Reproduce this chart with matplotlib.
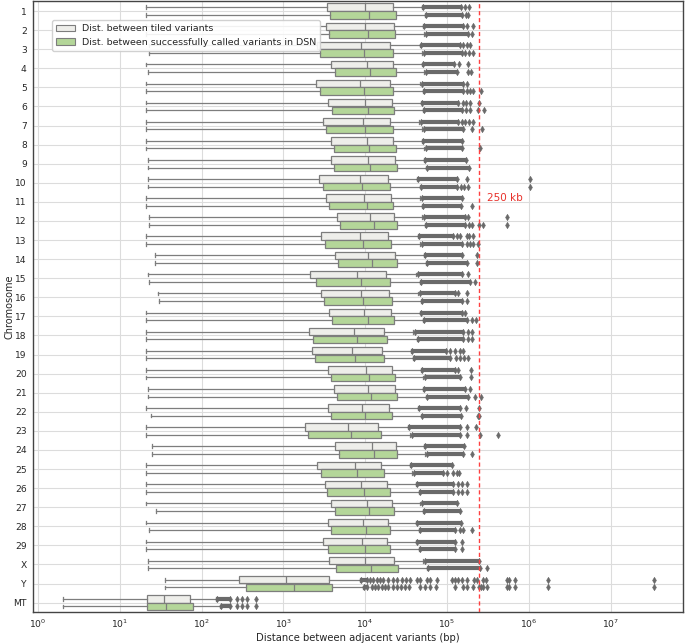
import matplotlib
matplotlib.use("Agg")
import matplotlib.pyplot as plt
from matplotlib.patches import Patch

chromosomes = ["1", "2", "3", "4", "5", "6", "7", "8", "9", "10", "11", "12", "13", "14",
               "15", "16", "17", "18", "19", "20", "21", "22", "23", "24", "25", "26", "27",
               "28", "29", "X", "Y", "MT"]
series_names = ["Dist. between tiled variants",
                "Dist. between successfully called variants in DSN"]

# ---- tiled variants (bp) ----
tiled_min = [21, 21, 23, 21, 21, 21, 21, 21, 22, 22, 21, 23, 21, 27, 22, 29, 21, 21, 21, 21,
             22, 21, 21, 25, 21, 21, 21, 21, 21, 22, 36, 2]
tiled_q1 = [3380, 3290, 2600, 3790, 2480, 3540, 3020, 3790, 3790, 2750, 3290, 4520, 2880, 4240,
            2130, 2900, 3610, 2070, 2240, 3540, 4190, 3540, 1850, 4310, 2550, 3230, 3790, 3540,
            3020, 3640, 289, 21.3]
tiled_med = [10100, 9950, 8810, 10400, 8710, 9860, 9310, 10400, 10700, 8710, 9750, 11500, 8570,
             10900, 8000, 8810, 9750, 7230, 6950, 10300, 10900, 9140, 6210, 12000, 7440, 8810,
             10400, 9480, 9060, 10100, 1070, 35.0]
tiled_q3 = [21900, 22300, 20300, 21900, 20300, 21300, 20100, 21900, 23300, 18800, 20800, 22700,
            19200, 23300, 18100, 19700, 20800, 16800, 15900, 21400, 22900, 19700, 14300, 23600,
            15700, 18600, 21100, 18800, 18600, 22700, 3640, 72.8]
tiled_band_end = [147000, 158000, 144000, 123000, 156000, 137000, 137000, 151000, 171000, 131000,
                  151000, 166000, 119000, 151000, 151000, 125000, 151000, 158000, 97200, 125000,
                  166000, 144000, 144000, 161000, 114000, 119000, 131000, 147000, 125000, 248000,
                  10400, 222]
tiled_outliers = [
    [167000, 184000], [174000, 208000], [158000, 174000, 191000], [141000, 182000], [174000],
    [156000, 169000, 191000, 246000], [151000, 166000, 187000, 206000], [], [],
    [177000, 1035000], [], [182000, 546000], [134000, 144000, 174000, 187000, 206000], [235000],
    [182000], [137000, 174000], [166000], [179000, 200000], [109000, 125000, 144000, 158000],
    [137000, 195000], [191000], [171000, 248000], [177000, 226000], [], [],
    [137000, 151000, 177000], [], [], [151000], [],
    [11500, 12600, 13800, 15200, 16600, 19200, 21700, 24300, 27900, 31600, 35300, 42700, 46800,
     56500, 61900, 74800, 114000, 125000, 137000, 151000, 177000, 214000, 231000, 278000, 300000,
     537000, 578000, 678000, 1730000, 34000000],
    [269, 309, 356, 462],
]

# ---- successfully called variants in DSN (bp) ----
dsn_min = [21, 21, 23, 22, 21, 21, 21, 21, 22, 22, 21, 23, 21, 27, 23, 30, 21, 21, 21, 21,
           22, 24, 21, 25, 21, 21, 28, 23, 21, 22, 36, 2]
dsn_q1 = [3740, 3580, 2830, 4240, 2830, 3930, 3340, 4190, 4120, 3020, 3640, 4960, 3250, 4610,
          2520, 3130, 3960, 2320, 2450, 3850, 4560, 3850, 1980, 4740, 2880, 3380, 4310, 3850,
          3540, 4360, 349, 21.3]
dsn_med = [11200, 10700, 9750, 11500, 9750, 10900, 10000, 11200, 11500, 9220, 10500, 12700, 9310,
           12000, 8960, 9480, 10700, 8000, 7500, 11000, 11900, 9860, 6650, 12700, 8000, 9590,
           11200, 10200, 9950, 11800, 1360, 36.7]
dsn_q3 = [23600, 23300, 21700, 23600, 22000, 22500, 21900, 23600, 24700, 20300, 22000, 24500,
          20800, 24700, 20300, 21100, 22500, 18600, 16800, 22900, 24700, 21400, 15500, 24700,
          16800, 20300, 22700, 20300, 20100, 25400, 3960, 79.2]
dsn_band_end = [151000, 182000, 151000, 131000, 156000, 151000, 158000, 151000, 187000, 131000,
                147000, 166000, 151000, 174000, 191000, 151000, 174000, 158000, 109000, 144000,
                182000, 147000, 144000, 158000, 88600, 119000, 144000, 125000, 125000, 253000,
                10400, 222]
dsn_outliers = [
    [171000, 182000], [200000], [166000, 187000, 210000], [179000, 195000],
    [177000, 191000, 206000, 258000], [169000, 191000, 241000, 283000], [200000, 266000],
    [253000], [], [147000, 161000, 179000, 1035000], [200000],
    [186000, 202000, 248000, 278000, 546000], [177000, 191000, 206000, 241000], [235000],
    [220000], [177000], [200000, 226000], [179000, 200000], [129000, 144000, 161000, 182000],
    [195000], [220000, 258000], [241000, 248000], [177000, 253000, 424000], [202000],
    [99200, 119000, 131000, 141000], [137000, 151000, 177000], [], [144000, 158000, 202000],
    [151000], [311000],
    [12000, 13200, 14500, 15900, 17500, 19200, 21700, 24300, 27200, 30700, 34600, 46800, 53800,
     61900, 73400, 125000, 156000, 177000, 210000, 248000, 260000, 278000, 306000, 537000,
     578000, 678000, 1730000, 34000000],
    [269, 309, 356, 462],
]

threshold_bp = 250000
threshold_label = "250 kb"

# ---- styling ----
colors = ["#eeeeea", "#b4d699"]
edge = "#7d7d7d"
flier_c = "#6a6a6a"
text_c = "#262626"

fig = plt.figure(figsize=(6.85, 6.43), dpi=100)
ax = fig.add_axes([0.0482, 0.0479, 0.9489, 0.9498])
ax.set_xscale("log")
ax.set_axisbelow(True)
ax.grid(True, which="major", color="#dcdcdc", lw=0.8)
ax.grid(False, which="minor")

groups = [
    (tiled_min, tiled_q1, tiled_med, tiled_q3, tiled_band_end, tiled_outliers, -0.2),
    (dsn_min, dsn_q1, dsn_med, dsn_q3, dsn_band_end, dsn_outliers, 0.2),
]
width = 0.392
for k, (mn, q1, md, q3, bend, outs, off) in enumerate(groups):
    stats = []
    for i in range(len(chromosomes)):
        iqr = q3[i] - q1[i]
        stats.append(dict(whislo=mn[i], q1=q1[i], med=md[i], q3=q3[i],
                          whishi=q3[i] + 1.5 * iqr, fliers=[]))
    pos = [i + off for i in range(len(chromosomes))]
    ax.bxp(stats, positions=pos, widths=width, vert=False, patch_artist=True,
           showfliers=False, manage_ticks=False,
           boxprops=dict(facecolor=colors[k], edgecolor=edge, lw=0.9),
           medianprops=dict(color=edge, lw=0.9),
           whiskerprops=dict(color=edge, lw=0.9),
           capprops=dict(color=edge, lw=0.9))
    for i in range(len(chromosomes)):
        start = stats[i]["whishi"] * 1.04
        ax.hlines(pos[i], start, bend[i], colors=flier_c, lw=3.0, zorder=3)
        pts = [start, bend[i]] + outs[i]
        ax.plot(pts, [pos[i]] * len(pts), ls="none", marker="d", ms=3.4,
                color=flier_c, mec=flier_c, mew=0.3, zorder=3)

ax.axvline(threshold_bp, color="#ff4040", ls="--", lw=1.0, dashes=(3, 2), zorder=4)
ax.text(311000, 9.81, threshold_label, color="#e8302a", fontsize=7.5, va="center", ha="left")

ax.set_yticks(range(len(chromosomes)))
ax.set_yticklabels(chromosomes)
ax.set_ylim(len(chromosomes) - 0.5, -0.5)
ax.set_xlim(0.87, 7.7e7)
ax.set_xticks([1, 10, 100, 1e3, 1e4, 1e5, 1e6, 1e7])
ax.tick_params(axis="both", which="both", length=0, labelsize=6.6, colors=text_c)
ax.tick_params(axis="y", pad=4.5)
ax.tick_params(axis="x", pad=4)
ax.set_xlabel("Distance between adjacent variants (bp)", fontsize=7.2, color=text_c, labelpad=2)
ax.set_ylabel("Chromosome", fontsize=7.0, color=text_c)
ax.yaxis.set_label_coords(-0.029, 0.5)
for s in ax.spines.values():
    s.set_color("#444444")
    s.set_linewidth(1.0)

handles = [Patch(facecolor=colors[0], edgecolor=edge, lw=0.8, label=series_names[0]),
           Patch(facecolor=colors[1], edgecolor=edge, lw=0.8, label=series_names[1])]
leg = ax.legend(handles=handles, loc="upper left", bbox_to_anchor=(0.0292, 0.969),
                borderaxespad=0, fontsize=6.8, frameon=True, edgecolor="#cccccc",
                framealpha=0.9)
for t in leg.get_texts():
    t.set_color(text_c)

fig.savefig("out.png", dpi=100)
